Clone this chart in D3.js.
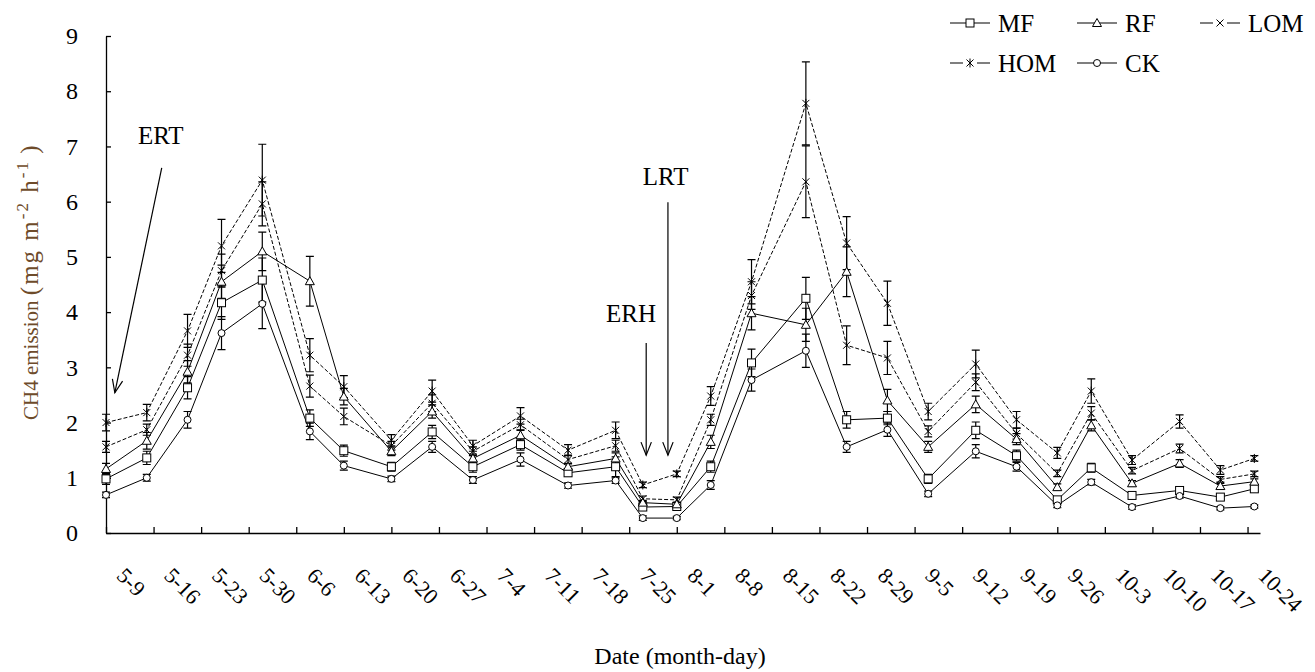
<!DOCTYPE html>
<html><head><meta charset="utf-8">
<script src="https://cdn.jsdelivr.net/npm/d3@7"></script>
<style>
body{margin:0;background:#fff;}
svg text{font-family:"Liberation Serif","Times New Roman",serif;fill:#000;}
</style></head><body>
<svg id="chart" width="1315" height="672"></svg>
<script>
// ---------- data ----------
const sampleDates = ["5-9","5-15","5-21","5-26","6-1","6-8","6-13","6-20","6-26","7-2","7-9","7-16","7-23","7-27","8-1","8-6","8-12","8-20","8-26","9-1","9-7","9-14","9-20","9-26","10-1","10-7","10-14","10-20","10-25"];
const tickLabels = ["5-9","5-16","5-23","5-30","6-6","6-13","6-20","6-27","7-4","7-11","7-18","7-25","8-1","8-8","8-15","8-22","8-29","9-5","9-12","9-19","9-26","10-3","10-10","10-17","10-24"];
const yTicks = [0,1,2,3,4,5,6,7,8,9];

const HOM = [2.0,2.18,3.66,5.2,6.39,3.22,2.65,1.68,2.57,1.58,2.12,1.5,1.86,0.87,1.07,2.48,4.55,7.78,5.25,4.16,2.2,3.06,2.05,1.45,2.57,1.32,2.02,1.14,1.35];
const LOM = [1.56,1.87,3.22,4.75,5.96,2.66,2.11,1.58,2.35,1.48,1.96,1.33,1.58,0.62,0.6,2.05,4.3,6.36,3.4,3.17,1.84,2.73,1.8,1.08,2.17,1.13,1.53,0.97,1.07];
const RF  = [1.16,1.67,2.92,4.55,5.1,4.56,2.47,1.48,2.2,1.35,1.77,1.2,1.35,0.55,0.52,1.65,3.98,3.77,4.73,2.4,1.56,2.33,1.7,0.83,1.95,0.9,1.26,0.85,0.93];
const MF  = [0.98,1.36,2.63,4.17,4.58,2.08,1.49,1.2,1.83,1.2,1.6,1.09,1.2,0.47,0.48,1.2,3.08,4.25,2.05,2.08,0.98,1.86,1.4,0.6,1.18,0.68,0.77,0.65,0.8];
const CK  = [0.69,1.0,2.05,3.62,4.15,1.84,1.22,0.98,1.56,0.96,1.33,0.86,0.95,0.27,0.27,0.87,2.77,3.3,1.56,1.87,0.71,1.48,1.2,0.5,0.92,0.47,0.67,0.45,0.48];

const HOM_se = [0.15,0.15,0.3,0.48,0.65,0.3,0.2,0.1,0.2,0.1,0.15,0.1,0.15,0.05,0.05,0.17,0.4,0.75,0.48,0.4,0.15,0.25,0.15,0.1,0.22,0.08,0.12,0.08,0.05];
const LOM_se = [0.1,0.1,0.2,0.3,0.4,0.2,0.15,0.08,0.15,0.08,0.1,0.08,0.1,0.05,0.05,0.1,0.25,0.65,0.35,0.3,0.1,0.15,0.1,0.06,0.12,0.06,0.08,0.05,0.05];
const RF_se  = [0.1,0.15,0.2,0.3,0.35,0.45,0.15,0.08,0.12,0.08,0.1,0.06,0.1,0.04,0.04,0.12,0.3,0.3,0.45,0.2,0.1,0.15,0.1,0.06,0.1,0.05,0.07,0.05,0.05];
const MF_se  = [0.1,0.12,0.2,0.3,0.4,0.15,0.1,0.08,0.12,0.1,0.1,0.06,0.18,0.06,0.04,0.1,0.25,0.38,0.15,0.12,0.08,0.15,0.1,0.05,0.08,0.05,0.05,0.05,0.05];
const CK_se  = [0.05,0.06,0.15,0.3,0.45,0.15,0.08,0.05,0.1,0.06,0.12,0.05,0.05,0.04,0.03,0.08,0.2,0.3,0.1,0.12,0.05,0.12,0.08,0.04,0.05,0.04,0.04,0.03,0.03];

const seriesNames = ["MF","RF","LOM","HOM","CK"];
const markerTypes = ["square","triangle","cross","star","circle"];
const dashed = [false,false,true,true,false];
const seriesValues = [MF,RF,LOM,HOM,CK];
const seriesErrors = [MF_se,RF_se,LOM_se,HOM_se,CK_se];

// annotations: label, text (day offset, value), arrow start/end (day offset, value)
const annLabels = ["ERT","ERH","LRT"];
const annText = [[4.7,7.04],[73.6,3.82],[79.0,6.3]];
const annArrow = [[[8.2,6.61],[1.3,2.54]],[[79.5,3.44],[79.5,1.41]],[[82.7,5.99],[82.7,1.41]]];

// ---------- chart ----------
(function(){
const parse = s => { const [m,d] = s.split("-").map(Number); return new Date(2013, m-1, d); };
const start = parse("5-9");
const dayToDate = d => new Date(start.getTime() + d*864e5);

const svg = d3.select("#chart");
const pL = 106, pR = 1260, pT = 36, pB = 533;

const x = d3.scaleTime().domain([start, new Date(2013,9,25,20)]).range([pL,pR]);
const y = d3.scaleLinear().domain([0,9]).range([pB,pT]);

// axes
const yAxis = d3.axisLeft(y).tickValues(yTicks).tickSizeInner(-5).tickSizeOuter(0).tickPadding(28).tickFormat(d3.format("d"));
const gy = svg.append("g").attr("transform",`translate(${pL},0)`).call(yAxis);
gy.selectAll("text").attr("font-size",24).attr("font-family","Liberation Serif");
gy.selectAll("path,line").attr("stroke","#000").attr("stroke-width",1.3);

const xAxis = d3.axisBottom(x).tickValues(tickLabels.map(parse)).tickSizeInner(-6).tickSizeOuter(0).tickFormat((d,i)=>tickLabels[i]);
const gx = svg.append("g").attr("transform",`translate(0,${pB})`).call(xAxis);
gx.selectAll("path,line").attr("stroke","#000").attr("stroke-width",1.3);
gx.selectAll("text").attr("font-size",22).attr("font-family","Liberation Serif")
  .attr("text-anchor","start").attr("y",0).attr("dy",0)
  .attr("transform","translate(9,44) rotate(45)");

// axis titles
svg.append("text").attr("x",680).attr("y",664).attr("text-anchor","middle").attr("font-size",24).text("Date (month-day)");
const ytg = svg.append("g").attr("transform","translate(38,0) rotate(-90)");
const yt = ytg.append("text").attr("x",-420).attr("y",0).style("fill","#6e4b2a");
yt.append("tspan").attr("font-size",21).text("CH4 emission ");
yt.append("tspan").attr("font-size",25).attr("letter-spacing",2).text("(mg m");
yt.append("tspan").attr("dy",-10).attr("font-size",17).attr("letter-spacing",2).text("-2");
yt.append("tspan").attr("dy",10).attr("font-size",25).attr("letter-spacing",2).text(" h");
yt.append("tspan").attr("dy",-10).attr("font-size",17).attr("letter-spacing",2).text("-1");
yt.append("tspan").attr("dy",10).attr("font-size",25).text(" )");

function marker(g, type){
  if(type==="square") g.append("rect").attr("x",-4).attr("y",-4).attr("width",8).attr("height",8).attr("fill","#fff").attr("stroke","#000");
  else if(type==="triangle") g.append("path").attr("d","M0,-4.5L4.5,3.5L-4.5,3.5Z").attr("fill","#fff").attr("stroke","#000");
  else if(type==="cross") g.append("path").attr("d","M-3.5,-3.5L3.5,3.5M-3.5,3.5L3.5,-3.5").attr("stroke","#000").attr("fill","none");
  else if(type==="star") g.append("path").attr("d","M-3.5,-3.5L3.5,3.5M-3.5,3.5L3.5,-3.5M0,-4.5L0,4.5").attr("stroke","#000").attr("fill","none");
  else if(type==="circle") g.append("circle").attr("r",3.5).attr("fill","#fff").attr("stroke","#000");
}

const dates = sampleDates.map(parse);
const line = d3.line().x(d=>x(d.date)).y(d=>y(d.v));
const plot = svg.append("g");

seriesValues.forEach((vals,si)=>{
  const pts = vals.map((v,i)=>({date:dates[i], v}));
  plot.append("path").datum(pts).attr("d",line).attr("fill","none").attr("stroke","#000").attr("stroke-width",1)
    .attr("stroke-dasharray", dashed[si] ? "4,2" : null);
});
seriesValues.forEach((vals,si)=>{
  const eb = plot.append("g");
  vals.forEach((v,i)=>{
    const se = seriesErrors[si][i];
    const cx = x(dates[i]), y1 = y(v+se), y2 = y(v-se);
    eb.append("path").attr("d",`M${cx},${y1}V${y2}M${cx-4},${y1}H${cx+4}M${cx-4},${y2}H${cx+4}`)
      .attr("stroke","#000").attr("stroke-width",1.2).attr("fill","none");
  });
});
seriesValues.forEach((vals,si)=>{
  vals.forEach((v,i)=>{
    const g = plot.append("g").attr("transform",`translate(${x(dates[i])},${y(v)})`);
    marker(g, markerTypes[si]);
  });
});

// legend
const legX = [950,1077,1200,950,1077];
const legY = [23,23,23,63,63];
seriesNames.forEach((name,i)=>{
  const g = svg.append("g").attr("transform",`translate(${legX[i]},${legY[i]})`);
  if(dashed[i]){
    g.append("path").attr("d","M0,0H13M27,0H40").attr("stroke","#000").attr("stroke-width",1.2);
  } else {
    g.append("line").attr("x1",0).attr("x2",40).attr("stroke","#000").attr("stroke-width",1.2);
  }
  const m = g.append("g").attr("transform","translate(20,0)");
  marker(m, markerTypes[i]);
  g.append("text").attr("x",48).attr("y",9).attr("font-size",25).text(name);
});

// annotations
annLabels.forEach((lab,i)=>{
  const [td,tv] = annText[i];
  svg.append("text").attr("x",x(dayToDate(td))).attr("y",y(tv)).attr("font-size",25).text(lab);
  const [[sd,sv],[ed,ev]] = annArrow[i];
  const x1=x(dayToDate(sd)), y1=y(sv), x2=x(dayToDate(ed)), y2=y(ev);
  svg.append("line").attr("x1",x1).attr("y1",y1).attr("x2",x2).attr("y2",y2).attr("stroke","#000").attr("stroke-width",1.2);
  const ang = Math.atan2(y2-y1,x2-x1), L=14, w=0.38;
  const a1=[x2-L*Math.cos(ang-w), y2-L*Math.sin(ang-w)], a2=[x2-L*Math.cos(ang+w), y2-L*Math.sin(ang+w)];
  svg.append("path").attr("d",`M${a1[0]},${a1[1]}L${x2},${y2}L${a2[0]},${a2[1]}`).attr("fill","none").attr("stroke","#000").attr("stroke-width",1.2);
});
})();
</script>
</body></html>
